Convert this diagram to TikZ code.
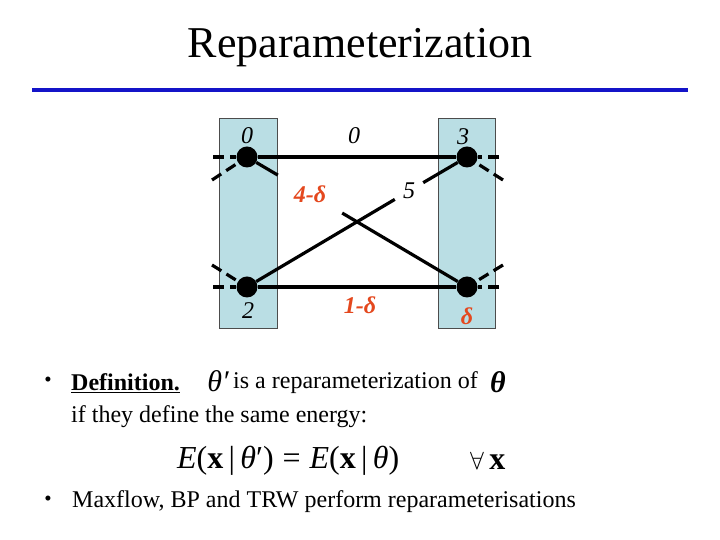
\documentclass[tikz,border=0pt]{standalone}
\usepackage{fontspec}
\setmainfont{Liberation Serif}
\definecolor{lblue}{RGB}{186,222,228}
\definecolor{lred}{RGB}{228,72,30}
\definecolor{tblue}{RGB}{20,20,200}
\begin{document}
\begin{tikzpicture}[x=1pt,y=1pt,
  vnode/.style={circle,fill=black,inner sep=0pt,minimum size=21pt},
  edge/.style={line width=3.2pt},
  stub/.style={line width=3.2pt,dash pattern=on 11pt off 6pt},
  column/.style={draw=black!70,line width=0.6pt,fill=lblue},
  wlab/.style={font=\fontsize{24}{28}\selectfont\itshape,inner sep=0pt},
  rlab/.style={font=\fontsize{24}{28}\selectfont\bfseries\itshape,text=lred,inner sep=0pt},
  body/.style={font=\fontsize{24}{28}\selectfont,inner sep=0pt},
  bul/.style={font=\fontsize{21}{24}\selectfont,inner sep=0pt}]
\useasboundingbox (0,0) rectangle (720,540);
% title
\node[font=\fontsize{44}{50}\selectfont,inner sep=0pt] (title) at (360,492) {Reparameterization};
\coordinate (ruleL) at (32,450);
\coordinate (ruleR) at (688,450);
\draw[tblue,line width=3.5pt] (ruleL) -- (ruleR);
% columns
\draw[column] (219,212) rectangle (277,422);
\draw[column] (438,212) rectangle (495,422);
% vertices
\node[vnode] (tl) at (247,383) {};
\node[vnode] (tr) at (467,383) {};
\node[vnode] (bl) at (247,253) {};
\node[vnode] (br) at (467,253) {};
% stub ends
\coordinate (tlh) at (213,383);
\coordinate (tld) at (212,360);
\coordinate (trh) at (499,383);
\coordinate (trd) at (503,360);
\coordinate (blh) at (213,253);
\coordinate (bld) at (212,275);
\coordinate (brh) at (499,253);
\coordinate (brd) at (503,275);
\foreach \a/\b in {tlh/tl,tld/tl,trh/tr,trd/tr,blh/bl,bld/bl,brh/br,brd/br}
  \draw[stub] (\a) -- (\b);
% edge labels that break the crossing edges
\node[rlab,minimum width=64pt,minimum height=40pt] (l4) at (310,346) {4-δ};
\node[wlab,minimum width=28pt,minimum height=17pt] (l5) at (409,349) {5};
% edges
\draw[edge] (tl) -- (tr);
\draw[edge] (bl) -- (br);
\draw[edge] (tl) -- (l4);
\draw[edge] (l4) -- (br);
\draw[edge] (bl) -- (l5);
\draw[edge] (l5) -- (tr);
% unary labels
\node[wlab] (u1) at (247,404) {0};
\node[wlab] (p1) at (354,404) {0};
\node[wlab] (u2) at (463,403) {3};
\node[wlab] (u3) at (248,229) {2};
\node[rlab] (p2) at (360,235) {1-δ};
\node[rlab] (u4) at (467,224) {δ};
% text
\node[bul] (b1) at (48,158) {\textbullet};
\node[body,anchor=west] (def) at (71,157) {\textbf{\underline{Definition.}}};
\node[font=\fontsize{30}{34}\selectfont\itshape,inner sep=0pt] (thp) at (218,159) {θ′};
\node[body,anchor=west] (isa) at (233,157) {is a reparameterization of};
\node[font=\fontsize{30}{34}\selectfont\bfseries\itshape,inner sep=0pt] (th) at (498,158) {θ};
\node[body,anchor=west] (iff) at (71,123) {if they define the same energy:};
\node[font=\fontsize{32}{36}\selectfont,inner sep=0pt,anchor=west] (eq) at (177,79)
  {\textit{E}(\textbf{x}\,|\,\textit{θ}′)\;=\;\textit{E}(\textbf{x}\,|\,\textit{θ})};
\node[font=\fontsize{32}{36}\selectfont,inner sep=0pt,anchor=west] (fa) at (470,79) {$\forall$\,\textbf{x}};
\node[bul] (b2) at (48,39) {\textbullet};
\node[body,anchor=west] (mx) at (72,38) {Maxflow, BP and TRW perform reparameterisations};
\end{tikzpicture}
\end{document}
